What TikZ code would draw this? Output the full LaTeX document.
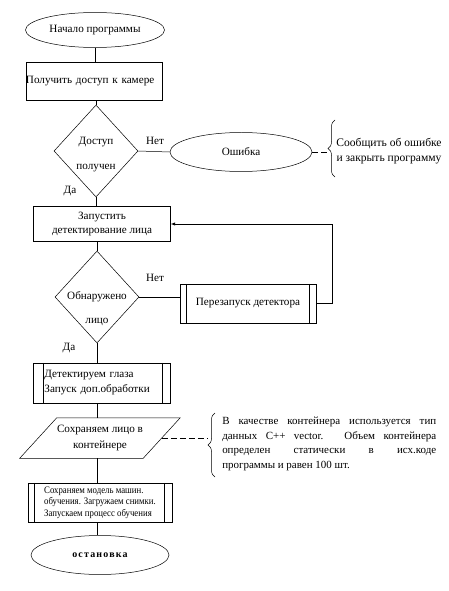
\documentclass[tikz,border=0pt]{standalone}
\usepackage{fontspec}
\setmainfont{Liberation Serif}
\usetikzlibrary{shapes.geometric,decorations.pathreplacing}

\tikzset{
  every picture/.style={line width=0.5pt},
  base/.style={draw,inner sep=0pt,font=\fontsize{11.2}{13}\selectfont},
  oval/.style={base,ellipse},
  box/.style={base,rectangle},
  decision/.style={base,diamond,minimum width=84bp,minimum height=92bp},
  txt/.style={inner sep=0pt,font=\fontsize{11.2}{13}\selectfont,align=center},
  rembrace/.style={decorate,decoration={brace,amplitude=7bp}},
  remline/.style={dash pattern=on 6bp off 3bp},
}
\newcommand{\subbars}[3]{%
  \draw ([xshift=#2]#1.north west) -- ([xshift=#2]#1.south west);
  \draw ([xshift=-#3]#1.north east) -- ([xshift=-#3]#1.south east);}

\begin{document}
\begin{tikzpicture}[x=1bp,y=-1bp]
    \useasboundingbox (0,0) rectangle (449,591);

    % начало
    \node [oval,minimum width=139bp,minimum height=35bp] (start) at (95,30) {Начало программы};

    % доступ к камере
    \node [box,minimum width=136bp,minimum height=38bp,text width=136bp,align=left] (cam) at (94,81) {Получить доступ к камере};
    \draw (start.south) -- (start.south |- cam.north);

    % проверка доступа
    \node [decision] (acc) at (96,151) {};
    \node [txt] (acct) at (96,155) {Доступ\\[12bp]получен};
    \draw (acc.north |- cam.south) -- (acc.north);
    \node [txt] (no1) at (155,141) {Нет};
    \node [txt] (yes1) at (70,191) {Да};

    % ошибка
    \node [oval,minimum width=142bp,minimum height=39bp] (err) at (241,152) {Ошибка};
    \draw (acc.east) -- (err.west);
    \draw [rembrace] (335,177) -- (335,120);
    \coordinate (tip1) at (328,152);
    \draw [remline] (err.east) -- (tip1);
    \node [txt,font=\fontsize{11.6}{15}\selectfont] (errnote) at (389,151) {Сообщить об ошибке\\и закрыть программу};

    % детектирование лица
    \node [box,minimum width=137bp,minimum height=35bp,align=center] (face) at (102,224) {Запустить\\[2bp]детектирование лица};
    \draw (acc.south) -- (acc.south |- face.north);

    % лицо найдено?
    \node [decision] (found) at (97,297) {};
    \node [txt] (foundt) at (97,309) {Обнаружено\\[11bp]лицо};
    \draw (found.north |- face.south) -- (found.north);
    \node [txt] (no2) at (155,278) {Нет};
    \node [txt] (yes2) at (69,348) {Да};

    % перезапуск
    \node [box,minimum width=136bp,minimum height=39bp] (restart) at (248,303.5) {Перезапуск детектора};
    \subbars{restart}{6bp}{7bp}
    \draw (found.east) -- (restart.west |- found.east);
    \draw [-latex] (restart.east) -- ++(16,0) |- (face.east);

    % глаза
    \node [box,minimum width=137bp,minimum height=40bp,text width=114bp,align=left] (eyes) at (101.5,383) {Детектируем глаза\\[2bp]Запуск доп.обработки};
    \subbars{eyes}{10bp}{8bp}
    \draw (found.south) -- (found.south |- eyes.north);

    % контейнер
    \node [inner sep=0pt,minimum width=160bp,minimum height=40bp,font=\fontsize{11.2}{13}\selectfont,align=center] (save) at (100,438) {Сохраняем лицо в\\[3bp]контейнере};
    \draw ([xshift=37bp]save.north west) -- (save.north east) -- ([xshift=-37bp]save.south east) -- (save.south west) -- cycle;
    \draw (found.south |- eyes.south) -- (found.south |- save.north);
    \draw [rembrace] (215,477) -- (215,413);
    \coordinate (tip2) at (207,438);
    \draw [remline] ([xshift=-18.5bp]save.east) -- (tip2);
    \node [txt,anchor=north west,align=left,font=\fontsize{11}{14.5}\selectfont] (savenote) at (222,417) {%
      \makebox[214bp][s]{В качестве контейнера используется тип}\\
      \makebox[214bp][s]{данных C++ vector. Объем контейнера}\\
      \makebox[214bp][s]{определен статически в исх.коде}\\
      программы и равен 100 шт.};

    % обучение
    \node [box,minimum width=144bp,minimum height=39bp,align=left,font=\fontsize{10}{11.5}\selectfont\addfontfeature{FakeStretch=0.88}] (train) at (100,502.5) {Сохраняем модель машин.\\обучения. Загружаем снимки.\\Запускаем процесс обучения};
    \subbars{train}{6bp}{8bp}
    \draw (found.south |- save.south) -- (found.south |- train.north);

    % конец
    \node [oval,minimum width=138bp,minimum height=39bp,font=\fontsize{10}{12}\selectfont\bfseries\addfontfeature{LetterSpace=12}] (stop) at (100,555) {остановка};
    \draw (found.south |- train.south) -- (found.south |- stop.north);
\end{tikzpicture}
\end{document}
